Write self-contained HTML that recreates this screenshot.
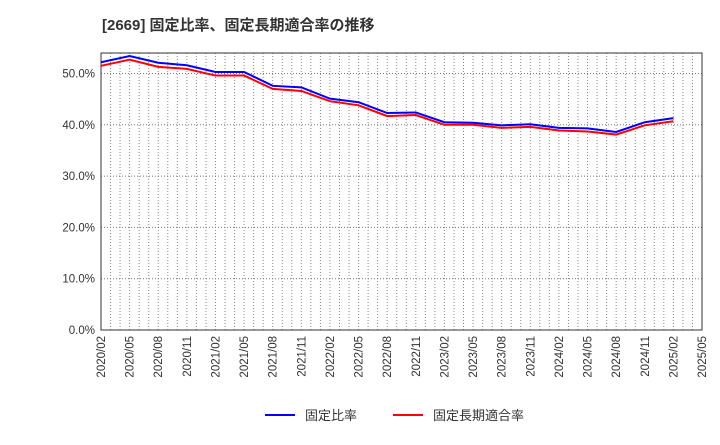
<!DOCTYPE html>
<html><head><meta charset="utf-8"><style>
body{margin:0;background:#fff;font-family:"Liberation Sans","Noto Sans CJK JP",sans-serif;}
</style></head><body>
<svg id="c" width="720" height="440" xmlns="http://www.w3.org/2000/svg">
<text x="102" y="30" font-size="15" font-weight="bold" fill="#333" font-family="Liberation Sans, Noto Sans CJK JP, sans-serif">[2669]  固定比率、固定長期適合率の推移</text>
<g id="grid"></g><g id="axes"></g><g id="series"></g>
<g>
<line x1="265" y1="415" x2="295" y2="415" stroke="#0000ff" stroke-width="2"/>
<text x="305" y="420" font-size="13" fill="#333">固定比率</text>
<line x1="393" y1="415" x2="423" y2="415" stroke="#ff0000" stroke-width="2"/>
<text x="433" y="420" font-size="13" fill="#333">固定長期適合率</text>
</g>
</svg>
<script>
const xLabels=["2020/02","2020/05","2020/08","2020/11","2021/02","2021/05","2021/08","2021/11","2022/02","2022/05","2022/08","2022/11","2023/02","2023/05","2023/08","2023/11","2024/02","2024/05","2024/08","2024/11","2025/02","2025/05"];
const yTicks=[0,10,20,30,40,50];
const fixedRatio=[52.2,53.4,52.1,51.6,50.3,50.3,47.6,47.3,45.1,44.4,42.3,42.4,40.5,40.4,39.9,40.1,39.4,39.3,38.6,40.5,41.3];
const fixedLongTerm=[51.5,52.7,51.3,50.9,49.6,49.6,47.0,46.6,44.6,43.8,41.7,41.9,40.0,40.0,39.4,39.6,38.9,38.7,38.1,39.9,40.7];
const L=101,R=702,T=53,B=330,NS="http://www.w3.org/2000/svg";
const x=i=>L+i*(R-L)/(xLabels.length-1);
const y=v=>B-v*(B-73.5)/50;
function mk(t,a,p){const e=document.createElementNS(NS,t);for(const k in a)e.setAttribute(k,a[k]);p.appendChild(e);return e;}
const g=document.getElementById('grid'),ax=document.getElementById('axes'),s=document.getElementById('series');
for(let m=1;m<(xLabels.length-1)*3;m++){const xx=L+m*(R-L)/((xLabels.length-1)*3);
const ln=mk('line',{x1:xx,x2:xx,y1:T,y2:B,stroke:'#888','stroke-dasharray':'1,2'},g);

}
yTicks.forEach(v=>{if(v>0){const ln=mk('line',{x1:L,x2:R,y1:y(v),y2:y(v),stroke:'#777','stroke-dasharray':'1,2'},g);

}
const t=mk('text',{x:L-6,y:y(v)+4,'text-anchor':'end','font-size':'11.5',fill:'#333'},ax);t.textContent=v.toFixed(1)+'%';

});
xLabels.forEach((lb,i)=>{const t=mk('text',{transform:`translate(${x(i)+4},${B+6}) rotate(-90)`,'text-anchor':'end','font-size':'11.5',fill:'#333'},ax);t.textContent=lb;

});
const fr=mk('rect',{x:L,y:T,width:R-L,height:B-T,fill:'none',stroke:'#333'},ax);


function line(d,c,n){const p=mk('polyline',{points:d.map((v,i)=>x(i)+','+y(v)).join(' '),fill:'none',stroke:c,'stroke-width':2},s);

}
line(fixedLongTerm,'#ff0000','fixed-long-term-ratio-line');
line(fixedRatio,'#0000ff','fixed-ratio-line');
</script>
</body></html>
